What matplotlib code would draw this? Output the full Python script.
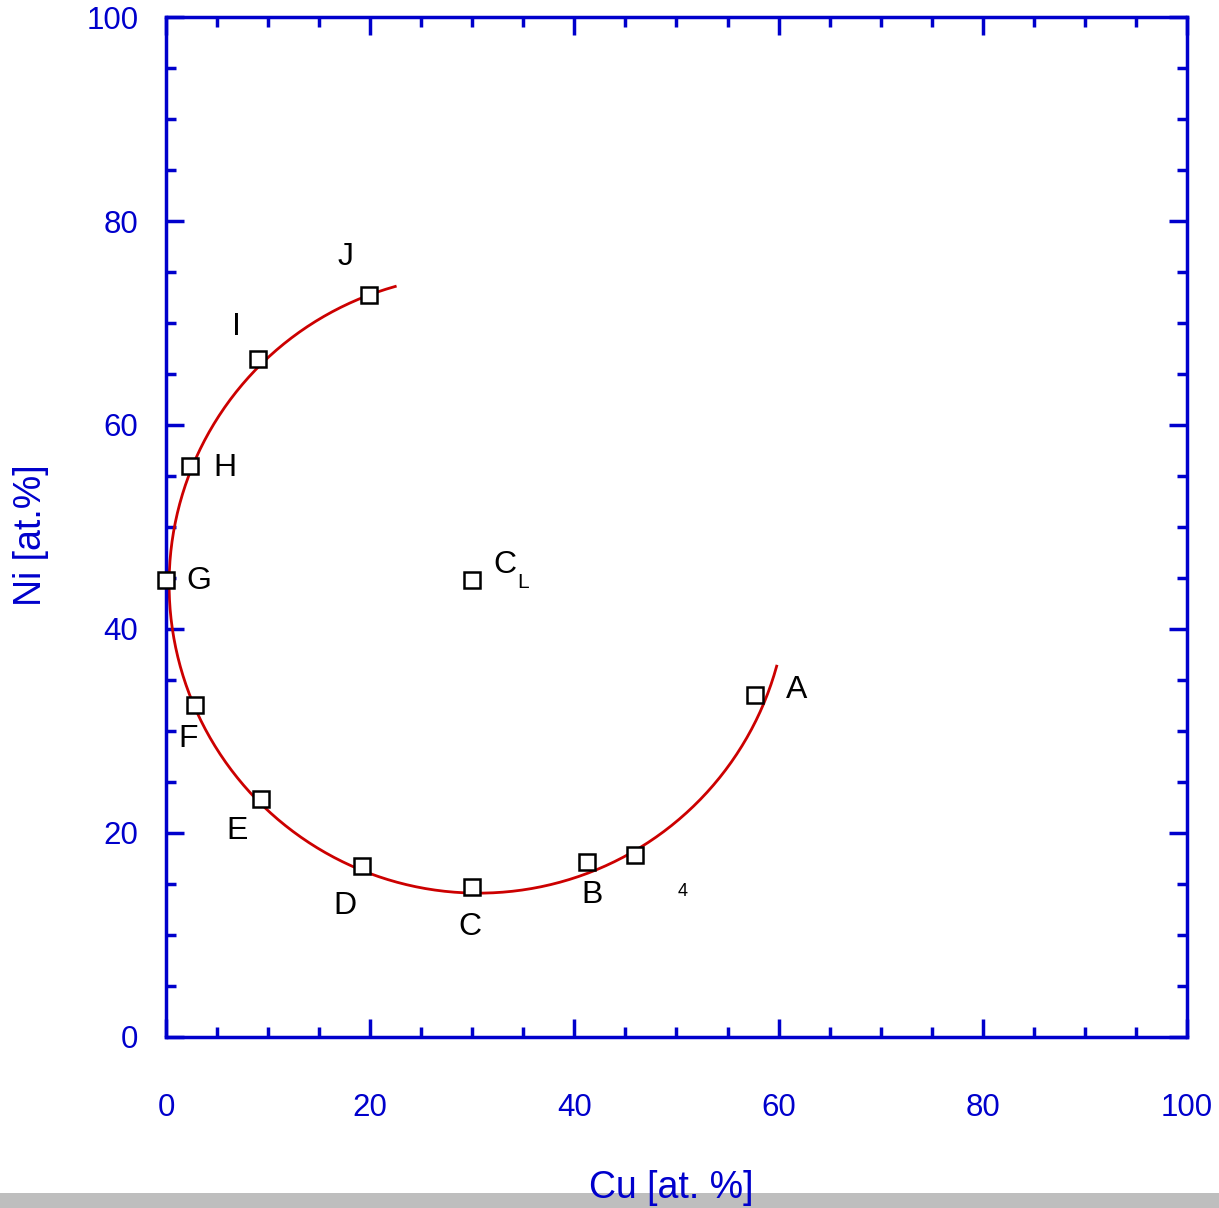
import numpy as np
import matplotlib
matplotlib.use("Agg")
import matplotlib.pyplot as plt
from matplotlib.patches import Rectangle
from matplotlib.ticker import MultipleLocator

plt.rcParams['font.family'] = ['Liberation Sans', 'DejaVu Sans']

BLUE = '#0000cc'
RED = '#cc0000'

# composition points (Cu, Ni) in at.%
pt_names = ['A', 'B', '4', 'C', 'D', 'E', 'F', 'G', 'H', 'I', 'J', 'CL']
cu = [57.7, 41.2, 45.9, 30.0, 19.2, 9.3, 2.8, 0.0, 2.3, 9.0, 19.9, 30.0]
ni = [33.5, 17.2, 17.8, 14.7, 16.8, 23.3, 32.5, 44.8, 56.0, 66.5, 72.7, 44.8]

# label text positions
lab_text = ['A', 'B', '4', 'C', 'D', 'E', 'F', 'G', 'H', 'I', 'J', 'C']
lab_x = [61.8, 41.7, 50.6, 29.8, 17.5, 7.0, 2.2, 3.2, 5.8, 6.9, 17.6, 33.2]
lab_y = [34.0, 13.9, 14.3, 10.8, 12.8, 20.2, 29.2, 44.7, 55.8, 69.6, 76.5, 46.3]
lab_size = [23, 23, 13, 23, 23, 23, 23, 23, 23, 23, 23, 23]

# fitted arc
arc_center = (30.6, 44.4)
arc_radius = 30.3
arc_start, arc_end = 105.6, 344.6  # degrees

fig = plt.figure(figsize=(12.19, 12.08), dpi=100)
ax = fig.add_axes([0.1362, 0.1416, 0.8375, 0.8443])

t = np.radians(np.linspace(arc_start, arc_end, 400))
ax.plot(arc_center[0] + arc_radius * np.cos(t), arc_center[1] + arc_radius * np.sin(t),
        color=RED, lw=2)

ax.plot(cu, ni, ls='none', marker='s', ms=12, mfc='white', mec='black', mew=1.8, clip_on=False, zorder=5)

for s, x, y, fs in zip(lab_text, lab_x, lab_y, lab_size):
    ax.text(x, y, s, fontsize=fs, ha='center', va='center', color='black')
ax.text(35.0, 44.6, 'L', fontsize=15, ha='center', va='center', color='black')

ax.set_xlim(0, 100)
ax.set_ylim(0, 100)
ax.xaxis.set_major_locator(MultipleLocator(20))
ax.yaxis.set_major_locator(MultipleLocator(20))
ax.xaxis.set_minor_locator(MultipleLocator(5))
ax.yaxis.set_minor_locator(MultipleLocator(5))

for sp in ax.spines.values():
    sp.set_color(BLUE)
    sp.set_linewidth(2.5)

ax.tick_params(which='both', direction='in', top=True, right=True, color=BLUE, width=2.5,
               labelcolor=BLUE, labelsize=22.5)
ax.tick_params(which='major', length=13)
ax.tick_params(which='minor', length=7)
ax.tick_params(axis='x', pad=40)
ax.tick_params(axis='y', pad=20)

# grey strip at the bottom
fig.patches.append(Rectangle((0, 0), 1, 15 / 1208, transform=fig.transFigure,
                             facecolor='#bebebe', edgecolor='none', zorder=0))

fig.text(671 / 1219, (1208 - 1188) / 1208, 'Cu [at. %]', fontsize=27, color=BLUE,
         ha='center', va='center', zorder=3)
fig.text(31 / 1219, (1208 - 535) / 1208, 'Ni [at.%]', fontsize=27, color=BLUE,
         ha='center', va='center', rotation=90)

fig.savefig('out.png', dpi=100)
